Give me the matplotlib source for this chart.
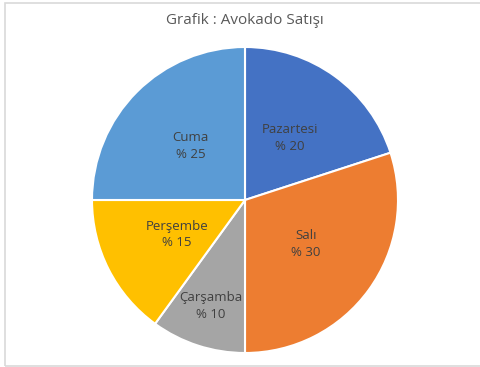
import numpy as np
import matplotlib.pyplot as plt
from matplotlib.patches import Rectangle

days = ['Pazartesi', 'Salı', 'Çarşamba', 'Perşembe', 'Cuma']
shares = [20, 30, 10, 15, 25]
colors = ['#4472C4', '#ED7D31', '#A5A5A5', '#FFC000', '#5B9BD5']
# how far out each label sits, as a fraction of the radius
label_dist = [0.5, 0.49, 0.73, 0.5, 0.5]

W, H = 481, 367
fig = plt.figure(figsize=(W / 100, H / 100), dpi=100)
plt.rcParams['font.family'] = ['Open Sans', 'DejaVu Sans']

# light frame around the chart area (right edge runs off the image)
fig.patches.append(Rectangle((4.5 / W, 1 - 366 / H), 1.2, (366 - 3) / H,
                             transform=fig.transFigure, fill=False,
                             edgecolor='#D9D9D9', linewidth=1.2))

cx, cy, r = 245, 200, 153
ax = fig.add_axes([(cx - r) / W, (H - cy - r) / H, 2 * r / W, 2 * r / H])
labels = [f'{d}\n% {v}' for d, v in zip(days, shares)]
wedges, texts = ax.pie(shares, labels=labels, colors=colors, startangle=90,
                       counterclock=False, labeldistance=0.5,
                       wedgeprops=dict(edgecolor='white', linewidth=1.5),
                       textprops=dict(color='#404040', fontsize=9.5,
                                      ha='center', va='center',
                                      linespacing=1.35))
for w, t, d in zip(wedges, texts, label_dist):
    mid = np.deg2rad((w.theta1 + w.theta2) / 2)
    t.set_position((d * np.cos(mid), d * np.sin(mid)))
ax.set_xlim(-1, 1)
ax.set_ylim(-1, 1)
ax.set_aspect('equal')

fig.text(cx / W, 1 - 21 / H, 'Grafik : Avokado Satışı', ha='center',
         va='center', fontsize=11, color='#595959')

plt.savefig('out.png', dpi=100)
